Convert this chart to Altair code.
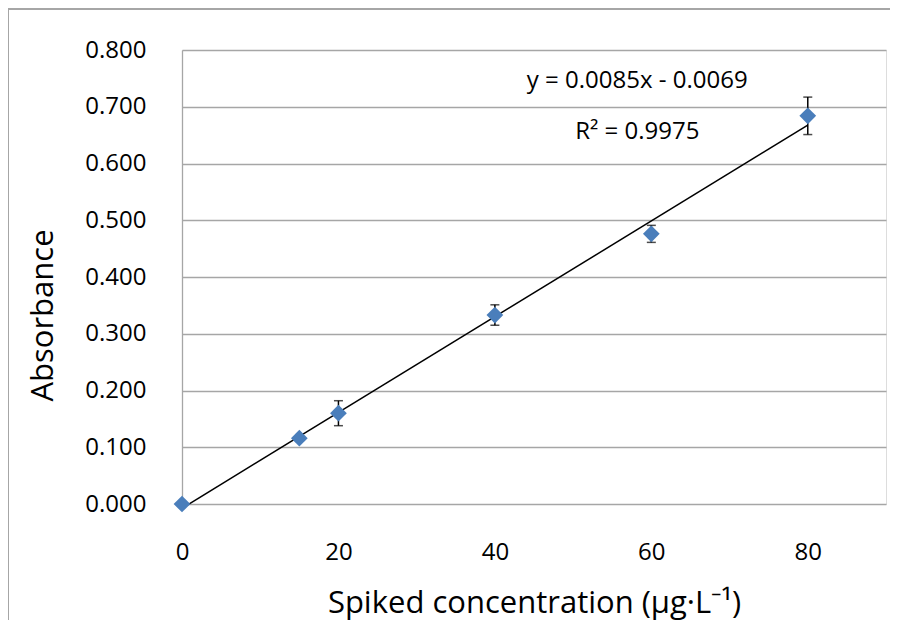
import altair as alt
import pandas as pd

# data
conc = [0, 15, 20, 40, 60, 80]
absorb = [0.000, 0.116, 0.160, 0.333, 0.476, 0.684]
err = [0.000, 0.000, 0.022, 0.018, 0.015, 0.033]

ann_x = [58.2, 58.2]
ann_y = [0.746, 0.655]
ann_text = ["y = 0.0085x - 0.0069", "R\u00b2 = 0.9975"]

y_ticks = [0.0, 0.1, 0.2, 0.3, 0.4, 0.5, 0.6, 0.7, 0.8]
x_ticks = [0, 20, 40, 60, 80]

df = pd.DataFrame({"x": conc, "y": absorb, "e": err})
df["lo"] = df["y"] - df["e"]
df["hi"] = df["y"] + df["e"]
ann = pd.DataFrame({"x": ann_x, "y": ann_y, "t": ann_text})

FONT = "Open Sans"
GRID = "#a6a6a6"
BLUE = "#4a7ebb"

xs = alt.Scale(domain=[0, 90], nice=False, zero=False)
ys = alt.Scale(domain=[0, 0.8], nice=False)

xaxis = alt.Axis(values=x_ticks, grid=False, domain=False, ticks=False,
                 labelFont=FONT, labelFontSize=24, labelColor="#000000",
                 labelPadding=36, labelFlush=False,
                 title="Spiked concentration (\u00b5g\u00b7L\u207b\u00b9)",
                 titleFont=FONT, titleFontSize=31, titleFontWeight="normal",
                 titleColor="#000000", titleX=352, titleY=108,
                 titleAlign="center", titleBaseline="alphabetic")
yaxis = alt.Axis(values=y_ticks, format=".3f", grid=True, gridColor=GRID,
                 gridWidth=1.3, domain=True, domainColor=GRID, domainWidth=1.3,
                 ticks=False, labelFont=FONT, labelFontSize=24,
                 labelColor="#000000", labelPadding=36, labelFlush=False,
                 title="Absorbance", titleFont=FONT, titleFontSize=31,
                 titleFontWeight="normal", titleColor="#000000",
                 titleAngle=270, titleX=-130, titleY=265,
                 titleAlign="center", titleBaseline="alphabetic")

base = alt.Chart(df)

axes_layer = base.mark_point(opacity=0).encode(
    x=alt.X("x:Q", scale=xs, axis=xaxis),
    y=alt.Y("y:Q", scale=ys, axis=yaxis),
)

trend = base.transform_regression("x", "y", extent=[0, 80]).mark_line(
    color="#000000", strokeWidth=1.5
).encode(x=alt.X("x:Q", scale=xs), y=alt.Y("y:Q", scale=ys))

eb = base.transform_filter("datum.e > 0")
err_rule = eb.mark_rule(color="#000000", strokeWidth=1.5).encode(
    x=alt.X("x:Q", scale=xs), y=alt.Y("lo:Q", scale=ys), y2="hi:Q")
cap_lo = eb.mark_tick(color="#000000", thickness=1.5, size=9, orient="horizontal").encode(
    x=alt.X("x:Q", scale=xs), y=alt.Y("lo:Q", scale=ys))
cap_hi = eb.mark_tick(color="#000000", thickness=1.5, size=9, orient="horizontal").encode(
    x=alt.X("x:Q", scale=xs), y=alt.Y("hi:Q", scale=ys))

points = base.mark_point(shape="diamond", filled=True, size=280, color=BLUE,
                         opacity=1).encode(
    x=alt.X("x:Q", scale=xs), y=alt.Y("y:Q", scale=ys))

texts = alt.Chart(ann).mark_text(font=FONT, fontSize=24, color="#000000",
                                 align="center", baseline="middle").encode(
    x=alt.X("x:Q", scale=xs), y=alt.Y("y:Q", scale=ys), text="t:N")

# outer chart frame (left and top edges)
frame_left = alt.Chart(df).mark_rule(color=GRID, strokeWidth=1.3).encode(
    x=alt.value(-174), y=alt.value(-41), y2=alt.value(600))
frame_top = alt.Chart(df).mark_rule(color=GRID, strokeWidth=1.3).encode(
    x=alt.value(-174), x2=alt.value(720), y=alt.value(-41))

chart = alt.layer(
    axes_layer, frame_left, frame_top, trend, err_rule, cap_lo, cap_hi, points, texts
).properties(
    width=704, height=454,
    autosize=alt.AutoSizeParams(type="none"),
    padding={"left": 174, "top": 42, "right": 4, "bottom": 116},
).configure_view(stroke=None).configure(background="#ffffff")

chart.save("out.html", embed_options={"renderer": "svg", "actions": False})
